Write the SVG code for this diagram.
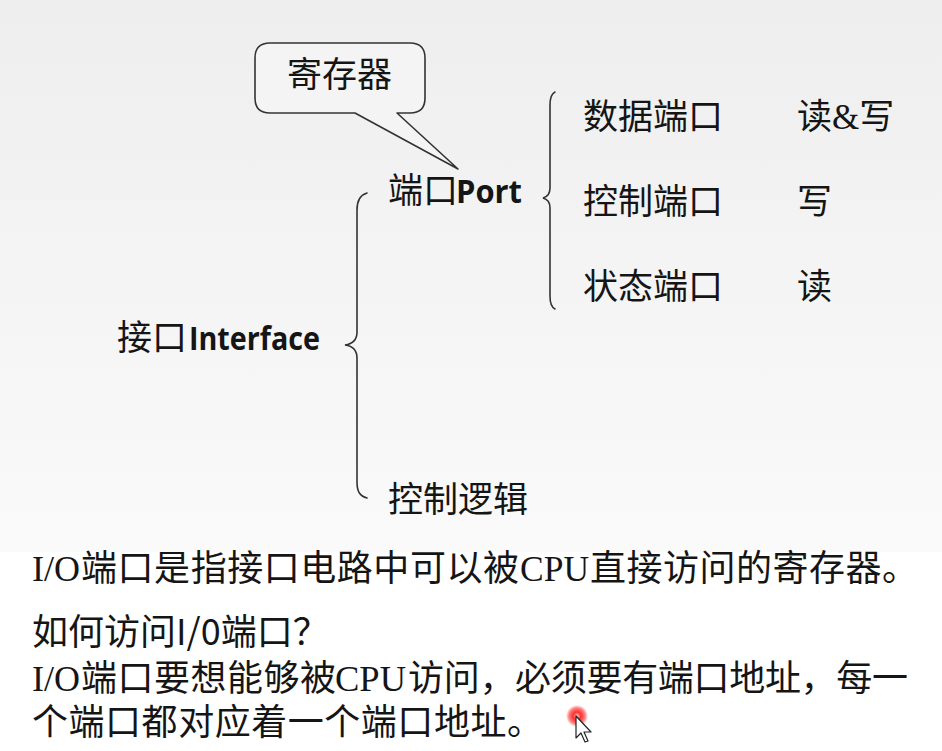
<svg xmlns="http://www.w3.org/2000/svg" width="942" height="751" viewBox="0 0 942 751">
  <defs>
    <linearGradient id="bg" x1="0" y1="0" x2="0" y2="1">
      <stop offset="0" stop-color="#eeeeee"/>
      <stop offset="1" stop-color="#fafafa"/>
    </linearGradient>
    <radialGradient id="clickGlow" cx="0.5" cy="0.5" r="0.5">
      <stop offset="0" stop-color="#ffd0d0"/>
      <stop offset="0.35" stop-color="#ff3030"/>
      <stop offset="0.7" stop-color="#ff2020" stop-opacity="0.6"/>
      <stop offset="1" stop-color="#ff0000" stop-opacity="0"/>
    </radialGradient>
    <style>
      .cjk { font-family: "Noto Sans CJK SC", "Noto Sans", sans-serif; font-size: 35px; fill: #151515; }
      .lat { font-family: "Open Sans", "Liberation Sans", sans-serif; font-weight: 700; font-size: 33px; fill: #151515; }
      .ser { font-family: "Liberation Serif", "Noto Sans CJK SC", serif; fill: #151515; }
      .body { font-family: "Noto Sans CJK SC", sans-serif; font-size: 36px; fill: #151515; }
      .brace { fill: none; stroke: #333333; stroke-width: 1.6; stroke-linecap: round; }
      .bubble { fill: #f4f4f4; stroke: #333333; stroke-width: 1.6; stroke-linejoin: round; }
    </style>
  </defs>

  <!-- slide background -->
  <rect x="0" y="0" width="942" height="552" fill="url(#bg)"/>
  <rect x="0" y="552" width="942" height="199" fill="#ffffff"/>

  <!-- brackets linking the hierarchy -->
  <g id="connectors">
    <path class="brace" d="M367,193 C360,195 357,200 357,210 V332 C357,340 352,344 345,345 C352,346 357,350 357,358 V482 C357,492 360,496 367,498"/>
    <path class="brace" d="M555,92 C551,94 550,98 550,105 V188 C550,194 547,197 543,198 C547,199 550,202 550,208 V296 C550,303 551,307 555,309"/>
  </g>

  <!-- callout bubble pointing at the port -->
  <g id="callout-register">
    <path class="bubble" d="M270,43 H410 Q425,43 425,58 V98 Q425,113 410,113 H397 L458,169 L355,113 H270 Q255,113 255,98 V58 Q255,43 270,43 Z"/>
    <text class="cjk" x="287" y="87">寄存器</text>
  </g>

  <g id="interface">
    <text class="cjk" x="117" y="350">接口</text>
    <text class="lat" x="189" y="350" textLength="131" lengthAdjust="spacingAndGlyphs">Interface</text>
  </g>

  <g id="port">
    <text class="cjk" x="388" y="203">端口</text>
    <text class="lat" x="456" y="203" textLength="66" lengthAdjust="spacingAndGlyphs">Port</text>
  </g>

  <g id="control-logic">
    <text class="cjk" x="388" y="512">控制逻辑</text>
  </g>

  <g id="data-port">
    <text class="cjk" x="583" y="129">数据端口</text>
    <text class="cjk" x="797" y="129">读<tspan class="ser" font-size="35">&amp;</tspan>写</text>
  </g>

  <g id="control-port">
    <text class="cjk" x="583" y="214">控制端口</text>
    <text class="cjk" x="797" y="214">写</text>
  </g>

  <g id="status-port">
    <text class="cjk" x="583" y="299">状态端口</text>
    <text class="cjk" x="797" y="299">读</text>
  </g>

  <!-- explanatory text -->
  <g id="notes">
    <text class="ser" font-size="36" x="32" y="581">I/O</text>
    <text class="body" x="81" y="581" textLength="438" lengthAdjust="spacing">端口是指接口电路中可以被</text>
    <text class="ser" font-size="36" x="520" y="581" textLength="69" lengthAdjust="spacingAndGlyphs">CPU</text>
    <text class="body" x="590" y="581" textLength="328" lengthAdjust="spacing">直接访问的寄存器。</text>

    <text class="body" x="32" y="645" font-size="35">如何访问I/0端口？</text>

    <text class="ser" font-size="36" x="32" y="691">I/O</text>
    <text class="body" x="81" y="691" textLength="255" lengthAdjust="spacing">端口要想能够被</text>
    <text class="ser" font-size="36" x="335" y="691" textLength="71" lengthAdjust="spacingAndGlyphs">CPU</text>
    <text class="body" x="408" y="691" textLength="500" lengthAdjust="spacing">访问，必须要有端口地址，每一</text>

    <text class="body" x="32" y="735" textLength="511" lengthAdjust="spacing">个端口都对应着一个端口地址。</text>
  </g>

  <!-- pointer with click highlight -->
  <g id="pointer">
    <circle cx="577" cy="716" r="11" fill="url(#clickGlow)"/>
    <path d="M576,716 L576,738 L581,733 L585,742 L588,741 L584,732 L591,732 Z" fill="#ffffff" stroke="#222222" stroke-width="1.2" stroke-linejoin="round"/>
  </g>
</svg>
